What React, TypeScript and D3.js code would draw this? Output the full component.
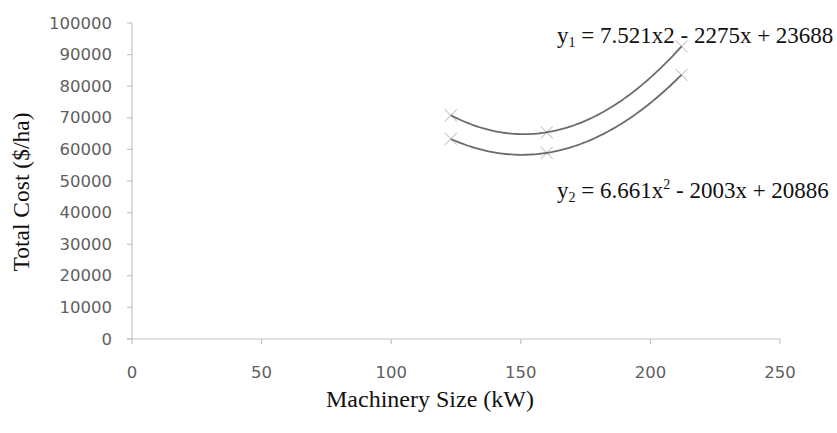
import React from "react";
import * as d3 from "d3";

const sizes = [123, 160, 212];
const cost1 = [70800, 65400, 92600];
const cost2 = [63300, 58900, 83600];
const xTicks = [0, 50, 100, 150, 200, 250];
const yTicks = [0, 10000, 20000, 30000, 40000, 50000, 60000, 70000, 80000, 90000, 100000];
const xTitle = "Machinery Size (kW)";
const yTitle = "Total Cost ($/ha)";

const W = 837;
const H = 433;

// least-squares quadratic fit (Excel-style polynomial trendline)
function polyfit2(xs: number[], ys: number[]) {
  const n = xs.length;
  let s0 = n, s1 = 0, s2 = 0, s3 = 0, s4 = 0, t0 = 0, t1 = 0, t2 = 0;
  for (let i = 0; i < n; i++) {
    const x = xs[i], y = ys[i];
    s1 += x; s2 += x * x; s3 += x * x * x; s4 += x * x * x * x;
    t0 += y; t1 += x * y; t2 += x * x * y;
  }
  const A = [
    [s4, s3, s2, t2],
    [s3, s2, s1, t1],
    [s2, s1, s0, t0],
  ];
  for (let i = 0; i < 3; i++) {
    let p = i;
    for (let r = i + 1; r < 3; r++) if (Math.abs(A[r][i]) > Math.abs(A[p][i])) p = r;
    [A[i], A[p]] = [A[p], A[i]];
    for (let r = 0; r < 3; r++) {
      if (r === i) continue;
      const f = A[r][i] / A[i][i];
      for (let c = i; c < 4; c++) A[r][c] -= f * A[i][c];
    }
  }
  const a = A[0][3] / A[0][0], b = A[1][3] / A[1][1], c = A[2][3] / A[2][2];
  return (x: number) => a * x * x + b * x + c;
}

export default function App() {
  const x = d3.scaleLinear().domain([0, 250]).range([132, 780]);
  const y = d3.scaleLinear().domain([0, 100000]).range([339, 23]);

  const series = [cost1, cost2];
  const [x0, x1] = d3.extent(sizes) as [number, number];
  const samples = d3.range(0, 81).map((i) => x0 + ((x1 - x0) * i) / 80);
  const line = d3
    .line<[number, number]>()
    .x((d) => x(d[0]))
    .y((d) => y(d[1]));

  const axisColor = "#c4c4c4";
  const tickText = "#5f5f5f";
  const sans = "'DejaVu Sans', sans-serif";
  const serif = "'Liberation Serif', 'Times New Roman', serif";

  return (
    <svg
      width={W}
      height={H}
      viewBox={`0 0 ${W} ${H}`}
      style={{ position: "absolute", left: 0, top: 0, background: "#fff" }}
    >
      <rect x={0} y={0} width={W} height={H} fill="#fff" />
      {/* y axis */}
      <line x1={x(0)} x2={x(0)} y1={y(0)} y2={y(100000)} stroke={axisColor} strokeWidth={1.2} />
      {yTicks.map((t) => (
        <g key={"y" + t}>
          <line x1={x(0) - 5} x2={x(0)} y1={y(t)} y2={y(t)} stroke={axisColor} strokeWidth={1.2} />
          <text
            x={112}
            y={y(t)}
            textAnchor="end"
            dominantBaseline="central"
            fontFamily={sans}
            fontSize={16.5}
            fill={tickText}
          >
            {t}
          </text>
        </g>
      ))}
      {/* x axis */}
      <line x1={x(0) - 5} x2={x(250)} y1={y(0)} y2={y(0)} stroke={axisColor} strokeWidth={1.2} />
      {xTicks.map((t) => (
        <g key={"x" + t}>
          <line x1={x(t)} x2={x(t)} y1={y(0)} y2={y(0) + 5} stroke={axisColor} strokeWidth={1.2} />
          <text
            x={x(t)}
            y={372}
            textAnchor="middle"
            dominantBaseline="central"
            fontFamily={sans}
            fontSize={16.5}
            fill={tickText}
          >
            {t}
          </text>
        </g>
      ))}
      {/* markers */}
      {series.map((vals, si) =>
        sizes.map((sx, i) => {
          const cx = x(sx), cy = y(vals[i]);
          const r = 6;
          return (
            <g key={`m${si}-${i}`} stroke="#c8c8c8" strokeWidth={1.1}>
              <line x1={cx - r} y1={cy - r} x2={cx + r} y2={cy + r} />
              <line x1={cx - r} y1={cy + r} x2={cx + r} y2={cy - r} />
            </g>
          );
        })
      )}
      {/* trendlines */}
      {series.map((vals, si) => {
        const f = polyfit2(sizes, vals);
        const pts = samples.map((s) => [s, f(s)] as [number, number]);
        return (
          <path key={"l" + si} d={line(pts) || ""} fill="none" stroke="#6c6c6c" strokeWidth={1.8} />
        );
      })}
      {/* equations */}
      <text x={557} y={43} fontFamily={serif} fontSize={23} fill="#111">
        y<tspan fontSize={14} dy={4}>1</tspan>
        <tspan dy={-4}>{" = 7.521x2 - 2275x + 23688"}</tspan>
      </text>
      <text x={557} y={198} fontFamily={serif} fontSize={23} fill="#111">
        y<tspan fontSize={14} dy={4}>2</tspan>
        <tspan dy={-4}>{" = 6.661x"}</tspan>
        <tspan fontSize={14} dy={-9}>2</tspan>
        <tspan dy={9}>{" - 2003x + 20886"}</tspan>
      </text>
      {/* axis titles */}
      <text
        x={430}
        y={407}
        textAnchor="middle"
        fontFamily={serif}
        fontSize={24}
        fill="#111"
      >
        {xTitle}
      </text>
      <text
        transform={`translate(21,192) rotate(-90)`}
        textAnchor="middle"
        dominantBaseline="central"
        fontFamily={serif}
        fontSize={23.5}
        fill="#111"
      >
        {yTitle}
      </text>
    </svg>
  );
}
